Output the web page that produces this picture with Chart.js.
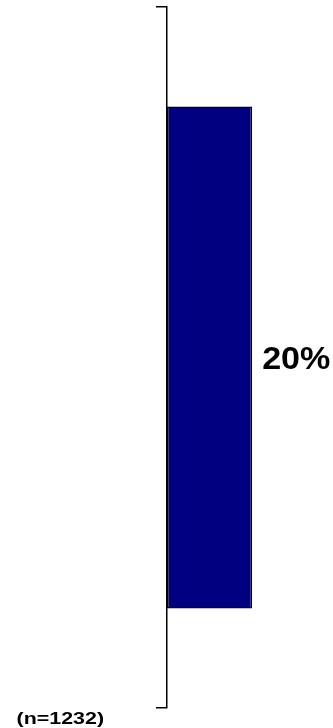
<!DOCTYPE html>
<html>
<head>
<meta charset="utf-8">
<script src="https://cdn.jsdelivr.net/npm/chart.js@4/dist/chart.umd.min.js"></script>
<style>
html,body{margin:0;padding:0;background:#fff;}
#wrap{width:333px;height:728px;position:relative;}
</style>
</head>
<body>
<div id="wrap"><canvas id="c" width="333" height="728"></canvas></div>
<script>
const categories = [''];
const values = [20];
const valueLabels = ['20%'];
const sampleNote = '(n=1232)';
const axisMax = 39;

const labelPlugin = {
  id: 'labels',
  afterDatasetsDraw(chart) {
    const ctx = chart.ctx;
    const meta = chart.getDatasetMeta(0);
    ctx.save();
    ctx.fillStyle = '#000';
    ctx.font = 'bold 31px "Liberation Sans", Arial, sans-serif';
    ctx.textBaseline = 'alphabetic';
    ctx.textAlign = 'left';
    meta.data.forEach((el, i) => {
      ctx.save();
      ctx.translate(el.x + 10, el.y + 11);
      ctx.scale(1.1, 1);
      ctx.fillText(valueLabels[i], 0, 0);
      ctx.restore();
    });
    ctx.font = 'bold 17px "Liberation Sans", Arial, sans-serif';
    ctx.save();
    ctx.translate(16.5, 724);
    ctx.scale(1.26, 1);
    ctx.fillText(sampleNote, 0, 0);
    ctx.restore();
    ctx.restore();
  }
};

new Chart(document.getElementById('c'), {
  type: 'bar',
  data: {
    labels: categories,
    datasets: [{
      data: values,
      backgroundColor: '#000080',
      borderColor: '#000000',
      borderWidth: 1.5,
      borderSkipped: false,
      categoryPercentage: 1,
      barPercentage: 0.716
    }]
  },
  options: {
    indexAxis: 'y',
    responsive: false,
    animation: false,
    layout: { padding: { left: 156, top: 7, bottom: 20, right: 0 } },
    plugins: { legend: { display: false }, tooltip: { enabled: false } },
    scales: {
      x: { display: false, min: 0, max: axisMax },
      y: {
        offset: true,
        grid: { display: true, drawOnChartArea: false, drawTicks: true, tickLength: 11, color: '#000', lineWidth: 1.5 },
        border: { display: true, color: '#000', width: 1.5 },
        ticks: { display: false }
      }
    }
  },
  plugins: [labelPlugin]
});
</script>
</body>
</html>
